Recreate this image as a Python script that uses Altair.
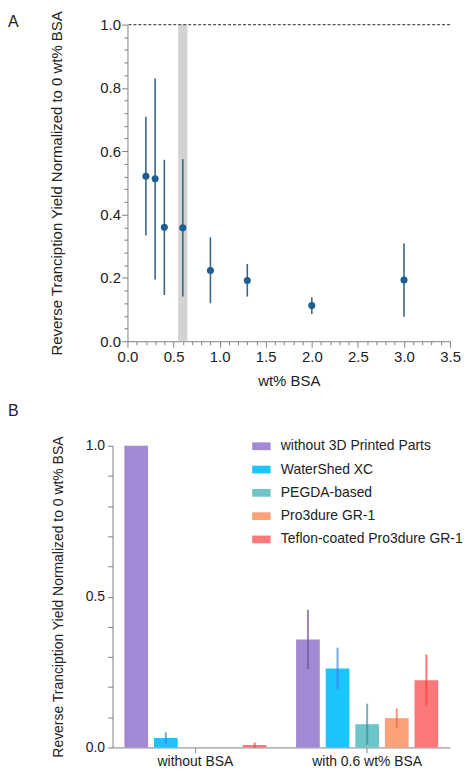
import altair as alt
import pandas as pd

# ---------------- Panel A data ----------------
bsa_wt = [0.2, 0.3, 0.4, 0.6, 0.9, 1.3, 2.0, 3.0]
yield_mean = [0.521, 0.513, 0.360, 0.358, 0.223, 0.192, 0.113, 0.193]
yield_low = [0.334, 0.195, 0.146, 0.141, 0.120, 0.141, 0.086, 0.077]
yield_high = [0.709, 0.830, 0.573, 0.575, 0.328, 0.244, 0.139, 0.309]
band_start = [0.55]
band_end = [0.65]
band_bottom = [0.0]
band_top = [1.0]
ref_level = [1.0]

a_x_ticks = [round(i * 0.1, 1) for i in range(36)]
a_y_ticks = [round(i * 0.04, 2) for i in range(26)]

# ---------------- Panel B data ----------------
groups = ["without BSA", "with 0.6 wt% BSA"]
materials = ["without 3D Printed Parts", "WaterShed XC", "PEGDA-based",
             "Pro3dure GR-1", "Teflon-coated Pro3dure GR-1"]
bar_colors = ["#a388d3", "#1ac4fc", "#6dc5c9", "#faa178", "#fa787a"]
err_colors = ["#6e558c", "#3d7ff5", "#3a8f94", "#f2663d", "#ff3c3c"]
mean_without = [1.0, 0.031, 0.0, 0.0, 0.008]
err_without = [0.0, 0.019, 0.0, 0.0, 0.008]
mean_with = [0.358, 0.262, 0.077, 0.097, 0.223]
err_with = [0.098, 0.069, 0.068, 0.032, 0.085]

b_y_ticks = [round(i * 0.1, 1) for i in range(11)]

FONT = "Liberation Sans"
TXT = "#222222"
AX = "#808080"
PLOT_W = 324
B_SHIFT = 15

# ---------------- Panel A ----------------
dfA = pd.DataFrame({"wt": bsa_wt, "mean": yield_mean, "low": yield_low, "high": yield_high})
dfBand = pd.DataFrame({"x1": band_start, "x2": band_end, "y1": band_bottom, "y2": band_top})
dfRef = pd.DataFrame({"level": ref_level})

major_y_a = "abs(round(datum.value*5) - datum.value*5) < 0.001"
major_x_a = "abs(round(datum.value*2) - datum.value*2) < 0.001"

axA_x = alt.Axis(
    title="wt% BSA", values=a_x_ticks,
    labelExpr=f"({major_x_a}) ? format(datum.value, '.1f') : ''",
    tickSize={"condition": {"test": major_x_a, "value": 6}, "value": 3.5},
    labelOverlap=False, labelFontSize=15, titleFontSize=15,
    labelPadding=2, titlePadding=9, labelFlush=False,
)
axA_y = alt.Axis(
    title="Reverse Tranciption Yield Normalized to 0 wt% BSA", values=a_y_ticks,
    labelExpr=f"({major_y_a}) ? format(datum.value, '.1f') : ''",
    tickSize={"condition": {"test": major_y_a, "value": 6}, "value": 3.5},
    labelOverlap=False, labelFontSize=15, titleFontSize=15,
    labelPadding=1, titlePadding=35, labelFlush=False,
)
xsA = alt.Scale(domain=[0, 3.5], nice=False, zero=False)
ysA = alt.Scale(domain=[0, 1.0], nice=False)

band = alt.Chart(dfBand).mark_rect(color="#d3d3d3").encode(
    x=alt.X("x1:Q", scale=xsA, axis=axA_x),
    x2="x2:Q",
    y=alt.Y("y1:Q", scale=ysA, axis=axA_y),
    y2="y2:Q",
)
ref = alt.Chart(dfRef).mark_rule(color="#555555", strokeDash=[3, 2], strokeWidth=1.2).encode(
    y=alt.Y("level:Q", scale=ysA, axis=axA_y)
)
errA = alt.Chart(dfA).mark_rule(color="#3b6880", strokeWidth=1.6).encode(
    x=alt.X("wt:Q", scale=xsA, axis=axA_x),
    y=alt.Y("low:Q", scale=ysA, axis=axA_y),
    y2="high:Q",
)
ptsA = alt.Chart(dfA).mark_circle(size=50, color="#1b5e8f", opacity=1).encode(
    x=alt.X("wt:Q", scale=xsA, axis=axA_x),
    y=alt.Y("mean:Q", scale=ysA, axis=axA_y),
)
chartA = alt.layer(band, ref, errA, ptsA).properties(
    width=PLOT_W, height=318,
    title=alt.TitleParams("A", anchor="start", frame="group", dx=-120, fontSize=16,
                          fontWeight="normal", color=TXT, offset=-20, font=FONT),
)

# ---------------- Panel B ----------------
rows = []
for g, means, errs in [(groups[0], mean_without, err_without), (groups[1], mean_with, err_with)]:
    for m, v, e in zip(materials, means, errs):
        rows.append({"group": g, "material": m, "mean": v, "low": v - e, "high": v + e})
dfB = pd.DataFrame(rows)

major_y_b = "abs(round(datum.value*2) - datum.value*2) < 0.001"
axB_y = alt.Axis(
    title="Reverse Tranciption Yield Normalized to 0 wt% BSA", values=b_y_ticks,
    labelExpr=f"({major_y_b}) ? format(datum.value, '.1f') : ''",
    tickSize=5, labelOverlap=False, labelFontSize=14, titleFontSize=14,
    labelPadding=3, titlePadding=20, labelFlush=False, offset=B_SHIFT,
)
axB_x = alt.Axis(title=None, labelAngle=0, labelFontSize=14, tickSize=5, labelPadding=2)
xsB = alt.Scale(domain=groups, paddingInner=0.0345, paddingOuter=0, range=[-B_SHIFT, PLOT_W])
xoB = alt.Scale(domain=materials, paddingInner=0.2, paddingOuter=0.4)
ysB = alt.Scale(domain=[0, 1.0], nice=False)

bars = alt.Chart(dfB).mark_bar().encode(
    x=alt.X("group:N", sort=groups, scale=xsB, axis=axB_x),
    xOffset=alt.XOffset("material:N", sort=materials, scale=xoB),
    y=alt.Y("mean:Q", scale=ysB, axis=axB_y),
    color=alt.Color("material:N", sort=materials,
                    scale=alt.Scale(domain=materials, range=bar_colors),
                    legend=alt.Legend(title=None, orient="none", legendX=125, legendY=414,
                                      symbolType="M-1,-0.42H1V0.42H-1Z", symbolSize=342,
                                      symbolStrokeWidth=0, symbolOpacity=1,
                                      labelFontSize=14, labelColor=TXT, labelFont=FONT,
                                      rowPadding=6.4, labelOffset=10, labelLimit=300)),
)
errB = alt.Chart(dfB).mark_rule(strokeWidth=2, opacity=0.7).encode(
    x=alt.X("group:N", sort=groups, scale=xsB, axis=axB_x),
    xOffset=alt.XOffset("material:N", sort=materials, scale=xoB),
    y=alt.Y("low:Q", scale=ysB, axis=axB_y),
    y2="high:Q",
    stroke=alt.Stroke("material:N", sort=materials,
                      scale=alt.Scale(domain=materials, range=err_colors), legend=None),
)
chartB = alt.layer(bars, errB).properties(
    width=PLOT_W, height=303,
    title=alt.TitleParams("B", anchor="start", frame="group", dx=-120, fontSize=16,
                          fontWeight="normal", color=TXT, offset=17, font=FONT),
)

chart = alt.vconcat(chartA, chartB, spacing=14).properties(
    padding={"left": 0, "top": 0, "right": 0, "bottom": 0}
).configure(font=FONT).configure_view(stroke=None).configure_axis(
    grid=False, domainColor=AX, tickColor=AX, domainWidth=1, tickWidth=1,
    labelColor=TXT, titleColor=TXT, labelFont=FONT, titleFont=FONT,
    titleFontWeight="normal",
)

chart.save("out.html", embed_options={"renderer": "svg", "actions": False})
